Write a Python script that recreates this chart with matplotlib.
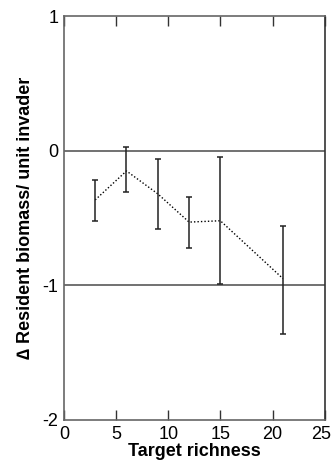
import matplotlib.pyplot as plt
import matplotlib.transforms as mtransforms
import numpy as np

plt.rcParams['font.family'] = ['Liberation Sans', 'DejaVu Sans']

richness = np.array([3, 6, 9, 12, 15, 21])
mean_change = np.array([-0.365, -0.15, -0.32, -0.53, -0.52, -0.95])
upper = np.array([-0.22, 0.025, -0.06, -0.345, -0.05, -0.56])
lower = np.array([-0.52, -0.31, -0.58, -0.72, -0.99, -1.36])

fig, ax = plt.subplots(figsize=(3.31, 4.62), dpi=100)
fig.subplots_adjust(left=0.193, right=0.981, top=0.965, bottom=0.091)

# reference lines at 0 and -1
for yv in (0, -1):
    ax.axhline(yv, color='#666666', lw=1.3, zorder=1)

ax.plot(richness, mean_change, ls=(0, (1, 1.5)), color='black', lw=1, zorder=2)
ax.errorbar(richness, mean_change,
            yerr=[mean_change - lower, upper - mean_change],
            fmt='none', ecolor='#222222', elinewidth=1.1, capsize=2.5,
            capthick=1.1, zorder=3)

ax.set_xlim(0, 25)
ax.set_ylim(-2, 1)
ax.set_xticks([0, 5, 10, 15, 20, 25])
ax.set_yticks([-2, -1, 0, 1])
ax.set_yticklabels(['-2', '-1', '0', '1'])
ax.tick_params(axis='x', direction='in', top=True, length=7, width=1,
               color='#333333', labelsize=13, pad=4)
ax.tick_params(axis='y', length=0, labelsize=13, pad=4)
for s in ax.spines.values():
    s.set_color('#666666')
    s.set_linewidth(1.2)
ax.spines['right'].set_color('#333333')

# nudge the last x label so it stays inside the figure
last = ax.get_xticklabels()[-1]
last.set_transform(last.get_transform() +
                   mtransforms.ScaledTranslation(-4 / 100, 0, fig.dpi_scale_trans))

ax.set_xlabel('Target richness', fontsize=13, fontweight='bold', labelpad=0)
ax.set_ylabel('\u2206 Resident biomass/ unit invader', fontsize=13,
              fontweight='bold', labelpad=6)

fig.savefig('out.png', dpi=100)
